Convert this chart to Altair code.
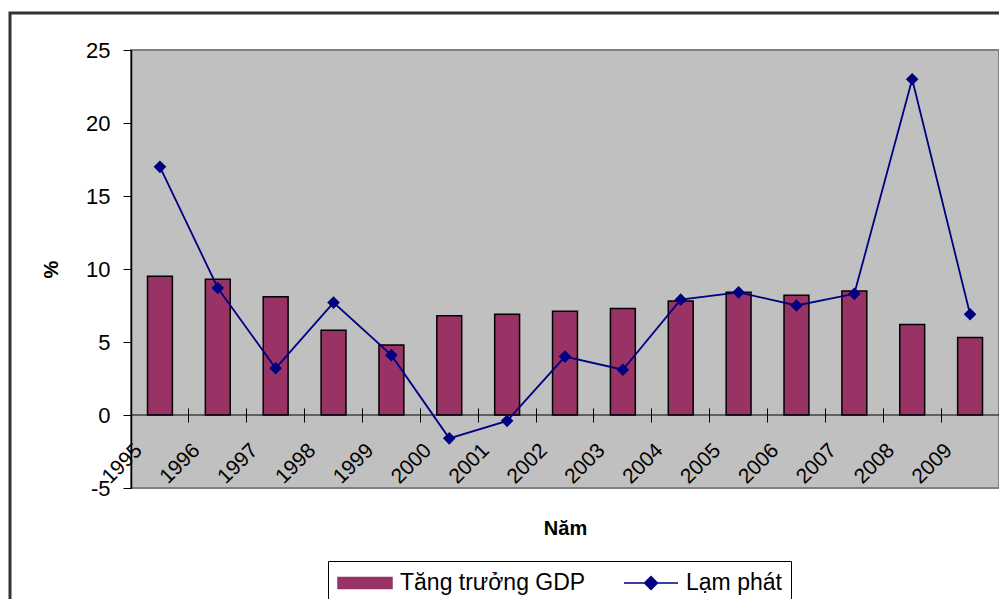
import altair as alt
import pandas as pd

years = ["1995", "1996", "1997", "1998", "1999", "2000", "2001", "2002",
         "2003", "2004", "2005", "2006", "2007", "2008", "2009"]
gdp_growth = [9.5, 9.3, 8.1, 5.8, 4.8, 6.8, 6.9, 7.1, 7.3, 7.8, 8.4, 8.2, 8.5, 6.2, 5.3]
inflation = [17.0, 8.7, 3.2, 7.7, 4.1, -1.6, -0.4, 4.0, 3.1, 7.9, 8.4, 7.5, 8.3, 23.0, 6.9]
series_names = ["Tăng trưởng GDP", "Lạm phát"]
y_ticks = [-5, 0, 5, 10, 15, 20, 25]

rows = []
for yr, g, i in zip(years, gdp_growth, inflation):
    rows.append({"year": yr, "value": g, "series": series_names[0]})
    rows.append({"year": yr, "value": i, "series": series_names[1]})
df = pd.DataFrame(rows)

FONT = "Liberation Sans"
MAROON = "#993366"
NAVY = "#000080"

color_scale = alt.Scale(domain=series_names, range=[MAROON, NAVY])
stroke_scale = alt.Scale(domain=series_names, range=["black", NAVY])
shape_scale = alt.Scale(
    domain=series_names,
    range=["M-2.25,-0.46L2.25,-0.46L2.25,0.46L-2.25,0.46Z",
           "M-2.25,0L2.25,0M0,-0.54L0.54,0L0,0.54L-0.54,0Z"],
)

x_enc = alt.X(
    "year:N",
    sort=years,
    scale=alt.Scale(paddingInner=0, paddingOuter=0),
    axis=alt.Axis(
        title="Năm",
        titleFont=FONT, titleFontSize=20, titleFontWeight="bold", titleColor="black",
        titleX=434, titleY=126, titleBaseline="alphabetic", titleAlign="center",
        labelAngle=315, labelAlign="right", labelBaseline="middle",
        labelFont=FONT, labelFontSize=21, labelColor="black",
        labelPadding=25, labelOffset=-21, labelOverlap=False, labelFlush=False,
        labelBound=False,
        bandPosition=0, tickSize=14, tickColor="black", tickWidth=1,
        domain=False, offset=-80, grid=False,
    ),
)
y_enc = alt.Y(
    "value:Q",
    scale=alt.Scale(domain=[-5, 25], nice=False, zero=False),
    axis=alt.Axis(
        title="%", values=y_ticks, labelExpr="'' + datum.value",
        titleFont=FONT, titleFontSize=20, titleFontWeight="bold", titleColor="black",
        titleX=-80, titleY=219, titleAngle=270, titleAlign="center", titleBaseline="middle",
        labelFont=FONT, labelFontSize=22, labelColor="black", labelPadding=13,
        tickSize=8, tickColor="black", domainColor="black", domainWidth=1.5,
        grid=False,
    ),
)

base = alt.Chart(df)

leg = alt.Legend(
    title=None, orient="none", legendX=197, legendY=511, direction="horizontal",
    labelFont=FONT, labelFontSize=23, labelColor="black", labelOffset=22, labelLimit=0,
    symbolSize=576, symbolOffset=15, symbolStrokeWidth=1.5, symbolOpacity=1,
    columnPadding=35, padding=9, strokeColor="black", fillColor="white",
)
legend_layer = base.mark_point(filled=True, size=0).encode(
    x=x_enc, y=y_enc,
    color=alt.Color("series:N", scale=color_scale, legend=leg),
    shape=alt.Shape("series:N", scale=shape_scale, legend=leg),
    stroke=alt.Stroke("series:N", scale=stroke_scale, legend=leg),
)

bars = base.transform_filter(alt.datum.series == series_names[0]).mark_bar(
    width=alt.RelativeBandSize(0.43), stroke="black", strokeWidth=1.5
).encode(x=x_enc, y=y_enc, color=alt.Color("series:N", scale=color_scale))

zero_rule = alt.Chart(pd.DataFrame({"z": [0]})).mark_rule(color="black", strokeWidth=1).encode(
    y=alt.Y("z:Q")
)

line = base.transform_filter(alt.datum.series == series_names[1]).mark_line(strokeWidth=1.8).encode(
    x=x_enc, y=y_enc, color=alt.Color("series:N", scale=color_scale)
)

points = base.transform_filter(alt.datum.series == series_names[1]).mark_point(
    shape="diamond", filled=True, size=160, opacity=1
).encode(x=x_enc, y=y_enc, color=alt.Color("series:N", scale=color_scale))

frame = alt.Chart(pd.DataFrame({"k": [0]})).mark_rect(
    filled=False, stroke="#333333", strokeWidth=3, clip=False
).encode(
    x=alt.value(-121), x2=alt.value(900), y=alt.value(-37), y2=alt.value(620)
)

chart = alt.layer(legend_layer, bars, zero_rule, line, points, frame).properties(
    width=868, height=438,
    autosize=alt.AutoSizeParams(type="none"),
    padding={"left": 123, "top": 42, "right": 0, "bottom": 111},
).configure(font=FONT).configure_view(
    fill="#C0C0C0", stroke="#808080", strokeWidth=2
)

chart.save("out.html", embed_options={"renderer": "svg", "actions": False})
